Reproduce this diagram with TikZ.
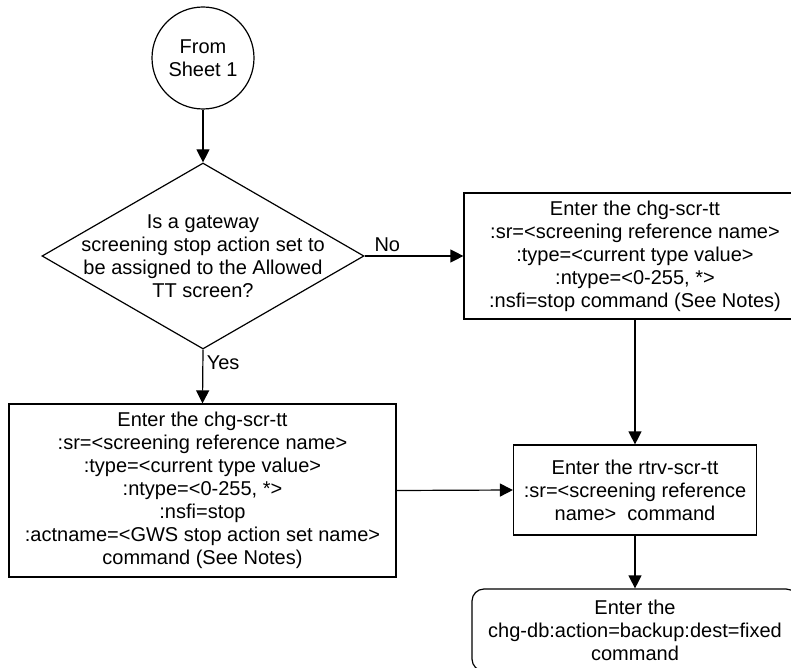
\documentclass[tikz,border=0pt]{standalone}
\usepackage{fontspec}
\setmainfont{Liberation Sans}
\usetikzlibrary{shapes,arrows.meta,positioning}

\begin{document}
\begin{tikzpicture}[
    x=1pt, y=-1pt,
    every node/.style={font=\fontsize{20}{23}\selectfont},
    block/.style={rectangle, draw, line width=1.2pt, align=center, inner sep=0pt},
    endblock/.style={block, rounded corners=12pt},
    connector/.style={circle, draw, line width=1.2pt, align=center, minimum size=102pt, inner sep=0pt},
    decision/.style={diamond, draw, line width=1.2pt, minimum width=322pt, minimum height=186pt, inner sep=0pt},
    arrow/.style={-{Triangle[length=13pt,width=13pt]}, line width=1.2pt}
]
    \useasboundingbox (0,0) rectangle (791,668);

    % ============ Start ============
    \node[connector] (start) at (203,58) {From\\Sheet 1};

    % ============ Decision ============
    \node[decision] (dec) at (203,256) {};
    \node[align=center] (dectext) at (dec.center) {Is a gateway\\screening stop action set to\\be assigned to the Allowed\\TT screen?};

    % ============ Commands ============
    \node[block, minimum width=342pt, minimum height=126pt] (chgno) at (635,256)
        {Enter the chg-scr-tt\\:sr=<screening reference name>\\:type=<current type value>\\:ntype=<0-255, *>\\:nsfi=stop command (See Notes)};
    \node[block, minimum width=387pt, minimum height=173pt] (chgyes) at (202.5,490.5)
        {Enter the chg-scr-tt\\:sr=<screening reference name>\\:type=<current type value>\\:ntype=<0-255, *>\\:nsfi=stop\\:actname=<GWS stop action set name>\\command (See Notes)};
    \node[block, minimum width=243pt, minimum height=90pt] (rtrv) at (635,490)
        {Enter the rtrv-scr-tt\\:sr=<screening reference\\name>~~command};
    \node[endblock, minimum width=326pt, minimum height=82pt] (chgdb) at (635,630)
        {Enter the\\chg-db:action=backup:dest=fixed\\command};

    % ============ Connections ============
    \draw[arrow] (start.south) -- (dec.north);
    \draw[arrow] (dec.east) -- node[pos=0.23, above] (nolbl) {No} (chgno.west);
    \draw[arrow] (dec.south) -- node[pos=0.25, right] (yeslbl) {Yes} (chgyes.north);
    \draw[arrow] (chgno.south) -- (rtrv.north);
    \draw[arrow] (chgyes.east) -- (rtrv.west);
    \draw[arrow] (rtrv.south) -- (chgdb.north);

\end{tikzpicture}
\end{document}
